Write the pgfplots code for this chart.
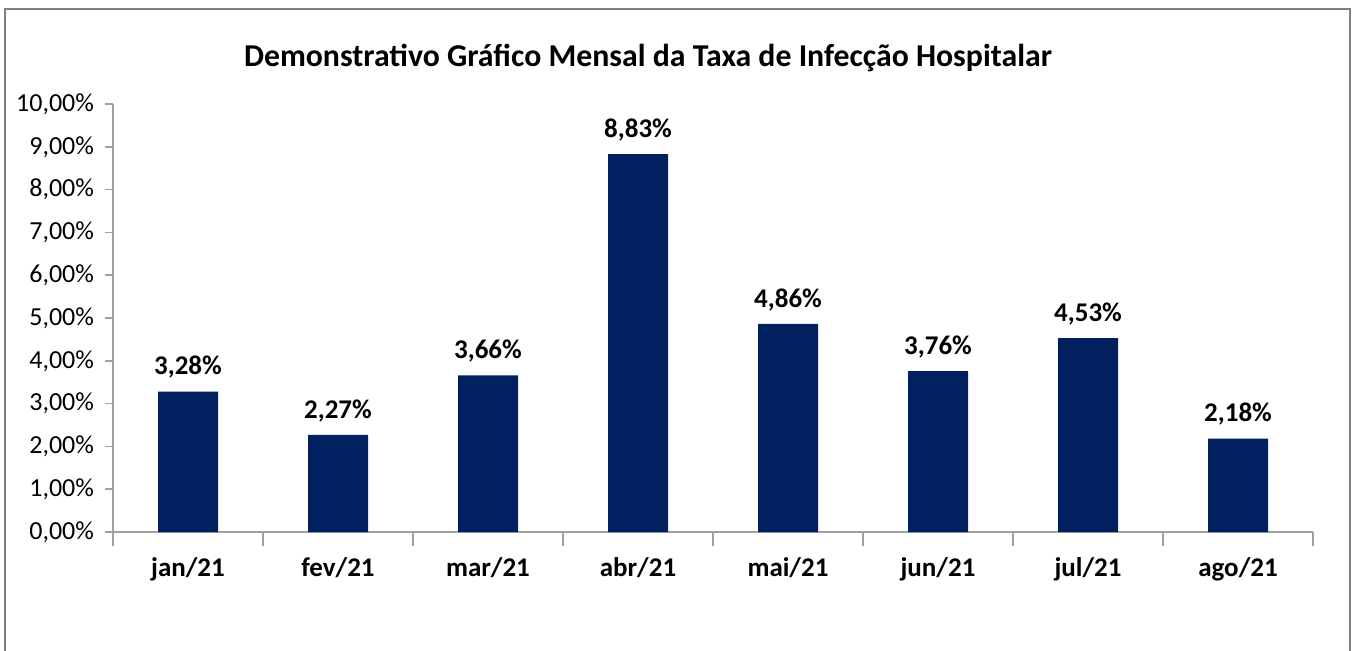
\documentclass[border=0pt]{standalone}
\usepackage{pgfplots}
\pgfplotsset{compat=1.18}
\usepackage{fontspec}
\setmainfont{Carlito}
\definecolor{barblue}{RGB}{0,32,96}
\definecolor{axgray}{RGB}{160,160,160}
\definecolor{framegray}{RGB}{128,128,128}
\begin{document}
\begin{tikzpicture}[x=1pt,y=1pt]
\useasboundingbox (0,0) rectangle (677,325);
\fill[white] (0,0) rectangle (677,325);
\draw[framegray,line width=0.9pt] (2.5,-5) -- (2.5,320.5) -- (675,320.5) -- (675,-5);
\node[font=\fontsize{15.9}{19}\selectfont\bfseries] at (324,296) {Demonstrativo Gráfico Mensal da Taxa de Infecção Hospitalar};
\begin{axis}[
  at={(56.5pt,59pt)}, anchor=south west,
  scale only axis, width=600pt, height=214pt,
  xmin=-0.5, xmax=7.5, ymin=0, ymax=10,
  axis x line*=bottom, axis y line*=left,
  axis line style={axgray, line width=0.8pt},
  xtick={0,...,7},
  xticklabels={jan/21,fev/21,mar/21,abr/21,mai/21,jun/21,jul/21,ago/21},
  x tick label style={font=\fontsize{13.5}{16}\selectfont\bfseries, yshift=-5pt},
  major x tick style={draw=none},
  minor xtick={-0.5,0.5,...,7.5},
  minor x tick style={axgray, line width=0.8pt},
  minor tick length=7pt,
  ytick={0,1,...,10},
  y tick style={axgray, line width=0.8pt},
  major tick length=4pt,
  tick align=outside,
  /pgf/number format/assume math mode=true,
  yticklabel={\pgfmathprintnumber[fixed,fixed zerofill,precision=2,use comma]{\tick}\%},
  y tick label style={font=\fontsize{13}{15}\selectfont, xshift=-2pt},
  ybar, bar width=30pt,
  nodes near coords={\pgfmathprintnumber[fixed,fixed zerofill,precision=2,use comma,assume math mode=true]{\pgfplotspointmeta}\%},
  nodes near coords style={font=\fontsize{13.5}{16}\selectfont\bfseries, yshift=3pt},
  clip=false,
]
\addplot[fill=barblue, draw=none] coordinates {
  (0,3.28) (1,2.27) (2,3.66) (3,8.83) (4,4.86) (5,3.76) (6,4.53) (7,2.18)
};
\end{axis}
\end{tikzpicture}
\end{document}
